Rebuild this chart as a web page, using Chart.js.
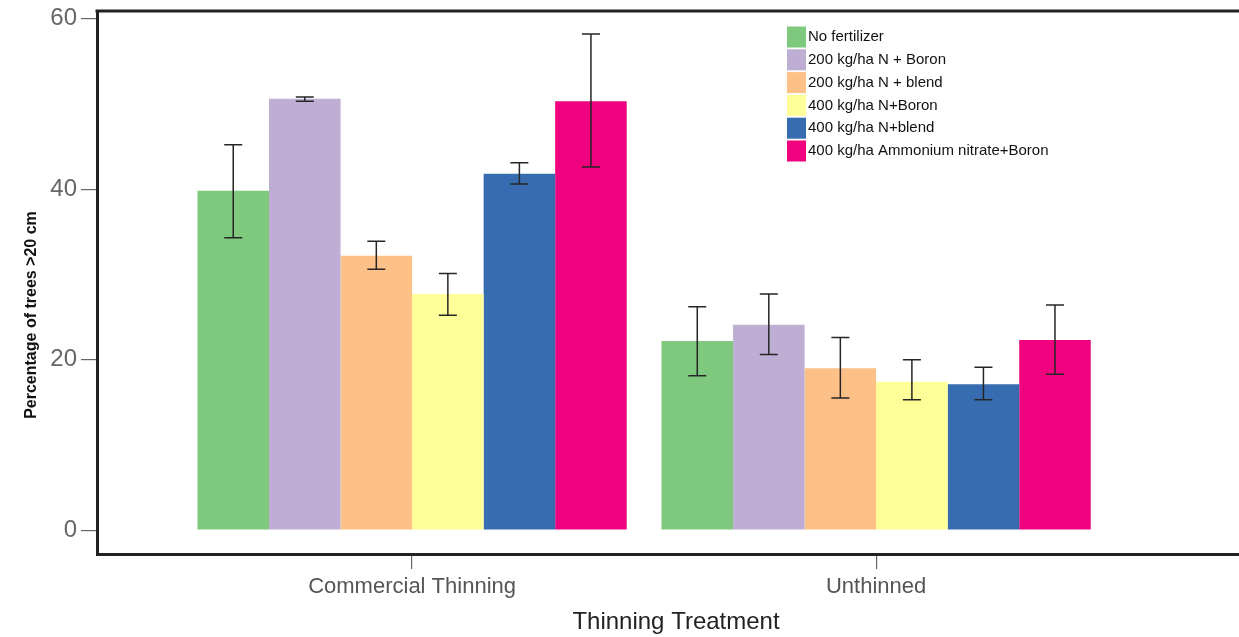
<!DOCTYPE html>
<html>
<head>
<meta charset="utf-8">
<title>Percentage of trees >20 cm by thinning treatment</title>
<script src="https://cdn.jsdelivr.net/npm/chart.js@4"></script>
<style>
  html, body { margin: 0; padding: 0; background: #fff; }
  #wrap { width: 1239px; height: 637px; }
</style>
</head>
<body>
<div id="wrap"><canvas id="treesChart"></canvas></div>
<script>
// Nhóm trên trục X
const categories = ['Commercial Thinning', 'Unthinned'];
const yTicks = [0, 20, 40, 60];

// Tên các nghiệm thức phân bón (legend)
const treatments = [
    'No fertilizer',
    '200 kg/ha N + Boron',
    '200 kg/ha N + blend',
    '400 kg/ha N+Boron',
    '400 kg/ha N+blend',
    '400 kg/ha Ammonium nitrate+Boron'
];
const colors = ['#7fc97f', '#beaed4', '#fdc086', '#ffff99', '#386cb0', '#f0027f'];

// Giá trị trung bình theo từng nghiệm thức [Commercial, Unthinned]
const noFertilizer = [39.8, 22.2];
const n200Boron = [50.6, 24.1];
const n200Blend = [32.2, 19.0];
const n400Boron = [27.7, 17.4];
const n400Blend = [41.8, 17.1];
const ammoniumBoron = [50.3, 22.3];

// Thanh sai số: giới hạn dưới / trên
const noFertilizerErr = [[34.3, 45.2], [18.1, 26.2]];
const n200BoronErr = [[50.3, 50.8], [20.6, 27.7]];
const n200BlendErr = [[30.6, 33.9], [15.5, 22.6]];
const n400BoronErr = [[25.2, 30.1], [15.3, 20.0]];
const n400BlendErr = [[40.6, 43.1], [15.3, 19.1]];
const ammoniumBoronErr = [[42.6, 58.2], [18.3, 26.4]];

const seriesValues = [noFertilizer, n200Boron, n200Blend, n400Boron, n400Blend, ammoniumBoron];
const seriesErrors = [noFertilizerErr, n200BoronErr, n200BlendErr, n400BoronErr, n400BlendErr, ammoniumBoronErr];

const FONT = "'Liberation Sans', Arial, sans-serif";

// Vẽ thanh sai số, khung trên, tiêu đề trục và legend
const extrasPlugin = {
    id: 'extras',
    afterDatasetsDraw(chart) {
        const ctx = chart.ctx;
        const yScale = chart.scales.y;
        ctx.save();
        ctx.strokeStyle = '#262626';
        ctx.lineWidth = 1.5;
        chart.data.datasets.forEach((ds, di) => {
            const meta = chart.getDatasetMeta(di);
            meta.data.forEach((bar, i) => {
                const err = seriesErrors[di][i];
                const yLo = yScale.getPixelForValue(err[0]);
                const yHi = yScale.getPixelForValue(err[1]);
                const cap = 9;
                ctx.beginPath();
                ctx.moveTo(bar.x, yLo); ctx.lineTo(bar.x, yHi);
                ctx.moveTo(bar.x - cap, yLo); ctx.lineTo(bar.x + cap, yLo);
                ctx.moveTo(bar.x - cap, yHi); ctx.lineTo(bar.x + cap, yHi);
                ctx.stroke();
            });
        });
        ctx.restore();
    },
    afterDraw(chart) {
        const ctx = chart.ctx;
        const area = chart.chartArea;
        ctx.save();
        // khung phía trên
        ctx.strokeStyle = '#222';
        ctx.lineWidth = 3;
        ctx.beginPath();
        ctx.moveTo(area.left - 1.5, area.top);
        ctx.lineTo(area.right, area.top);
        ctx.stroke();

        // tiêu đề trục X
        ctx.fillStyle = '#222';
        ctx.font = '24px ' + FONT;
        ctx.textAlign = 'center';
        ctx.textBaseline = 'middle';
        ctx.fillText('Thinning Treatment', 676, 622);

        // tiêu đề trục Y
        ctx.translate(32, 315);
        ctx.rotate(-Math.PI / 2);
        ctx.fillStyle = '#111';
        ctx.font = 'bold 16px ' + FONT;
        ctx.fillText('Percentage of trees >20 cm', 0, 0);
        ctx.restore();

        // legend
        ctx.save();
        ctx.font = '15px ' + FONT;
        ctx.textBaseline = 'middle';
        chart.data.datasets.forEach((ds, i) => {
            const cy = 37 + i * 22.8;
            ctx.fillStyle = ds.backgroundColor;
            ctx.fillRect(787, cy - 10.5, 19, 21);
            ctx.fillStyle = '#111';
            ctx.fillText(ds.label, 808, cy);
        });
        ctx.restore();
    }
};

const datasets = treatments.map((name, di) => ({
    label: name,
    data: categories.map((c, i) => ({ x: i, y: seriesValues[di][i] })),
    backgroundColor: colors[di],
    borderWidth: 0,
    categoryPercentage: 0.925,
    barPercentage: 1.0
}));

const chart = new Chart(document.getElementById('treesChart'), {
    type: 'bar',
    data: { datasets: datasets },
    options: {
        responsive: true,
        maintainAspectRatio: false,
        animation: false,
        layout: { padding: { top: 11, right: 0, left: 0, bottom: 0 } },
        plugins: {
            legend: { display: false },
            tooltip: { enabled: false }
        },
        scales: {
            x: {
                type: 'linear',
                offset: false,
                min: -0.679,
                max: 1.782,
                afterBuildTicks(scale) {
                    scale.ticks = categories.map((c, i) => ({ value: i }));
                },
                afterFit(scale) {
                    scale.height = 83;
                    scale.paddingLeft = 0;
                    scale.paddingRight = 0;
                },
                ticks: {
                    callback: (v) => categories[v] !== undefined ? categories[v] : '',
                    color: '#555',
                    font: { family: FONT, size: 22 },
                    padding: 5,
                    maxRotation: 0,
                    autoSkip: false
                },
                grid: {
                    offset: false,
                    drawOnChartArea: false,
                    drawTicks: true,
                    tickLength: 15,
                    color: '#666',
                    lineWidth: 1.2
                },
                border: { color: '#222', width: 3 }
            },
            y: {
                min: -2.8,
                max: 60.9,
                afterBuildTicks(scale) {
                    scale.ticks = yTicks.map(v => ({ value: v }));
                },
                afterFit(scale) {
                    scale.width = 97;
                    scale.paddingTop = 0;
                    scale.paddingBottom = 0;
                },
                ticks: {
                    color: '#666',
                    font: { family: FONT, size: 24 },
                    padding: 4
                },
                grid: {
                    drawOnChartArea: false,
                    drawTicks: true,
                    tickLength: 16,
                    color: '#666',
                    lineWidth: 1.2
                },
                border: { color: '#222', width: 3 }
            }
        }
    },
    plugins: [extrasPlugin]
});
</script>
</body>
</html>
